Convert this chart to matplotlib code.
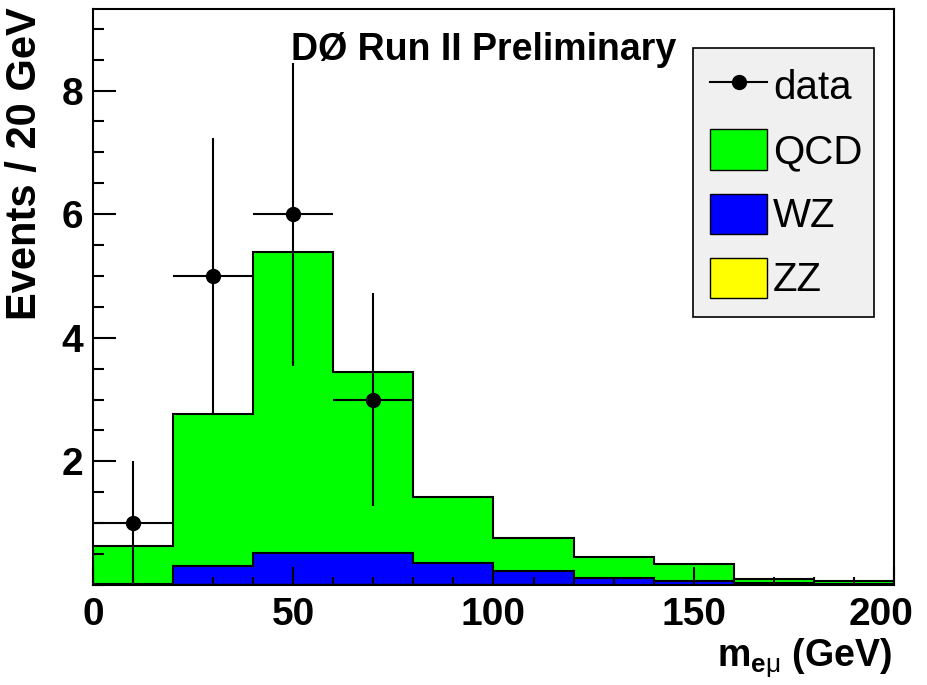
import matplotlib
matplotlib.use("Agg")
import matplotlib.pyplot as plt
import matplotlib.transforms as mtransforms
import numpy as np
from matplotlib.lines import Line2D
from matplotlib.patches import Patch
from matplotlib.ticker import MultipleLocator

# --- data (20 GeV bins, 0-200 GeV) ---
bin_edges = [0, 20, 40, 60, 80, 100, 120, 140, 160, 180, 200]
zz = [0.0, 0.01, 0.02, 0.02, 0.01, 0.01, 0.005, 0.005, 0.0, 0.0]
wz = [0.02, 0.30, 0.49, 0.49, 0.34, 0.22, 0.115, 0.065, 0.03, 0.01]
qcd = [0.61, 2.46, 4.88, 2.94, 1.07, 0.53, 0.33, 0.275, 0.06, 0.055]

data_x = [10, 30, 50, 70]
data_y = [1, 5, 6, 3]
data_err = [1.0, 2.24, 2.45, 1.73]
bin_half_width = 10

plt.rcParams["font.family"] = ["Liberation Sans", "DejaVu Sans"]
plt.rcParams["mathtext.fontset"] = "custom"
plt.rcParams["mathtext.rm"] = "Liberation Sans"
plt.rcParams["mathtext.bf"] = "Liberation Sans:bold"
plt.rcParams["mathtext.it"] = "Liberation Sans"

fig = plt.figure(figsize=(9.27, 6.85), dpi=100)
ax = fig.add_axes([0.1003, 0.146, 0.8641, 0.8409])

edges = np.array(bin_edges)
lvl_zz = np.array(zz)
lvl_wz = lvl_zz + np.array(wz)
lvl_qcd = lvl_wz + np.array(qcd)

# stacked histograms, each drawn from zero like THStack
ax.stairs(lvl_qcd, edges, fill=True, facecolor="#00ff00", edgecolor="black", linewidth=1.5)
ax.stairs(lvl_wz, edges, fill=True, facecolor="#0000ff", edgecolor="black", linewidth=1.5)
ax.stairs(lvl_zz, edges, fill=True, facecolor="#ffff00", edgecolor="black", linewidth=1.0)

ax.errorbar(data_x, data_y, yerr=data_err, xerr=bin_half_width, fmt="o", color="black",
            markersize=10, elinewidth=1.5, capsize=0, zorder=5)

ax.set_xlim(0, 200)
ax.set_ylim(0, 9.32)
ax.set_xticks([0, 50, 100, 150, 200])
ax.xaxis.set_minor_locator(MultipleLocator(10))
ax.set_yticks([2, 4, 6, 8])
ax.yaxis.set_minor_locator(MultipleLocator(0.5))
ax.tick_params(axis="x", which="major", direction="in", length=13, width=1.5, pad=9,
               labelsize=28, top=False)
ax.tick_params(axis="x", which="minor", direction="in", length=6, width=1.5, top=False)
ax.tick_params(axis="y", which="major", direction="in", length=16.5, width=1.5, pad=7,
               labelsize=28, right=False)
ax.tick_params(axis="y", which="minor", direction="in", length=8, width=1.5, right=False)
for sp in ax.spines.values():
    sp.set_linewidth(1.5)

fig.text(0.027, 0.99, "Events / 20 GeV", rotation=90, ha="center", va="top",
         fontsize=30, fontweight="bold")
fig.text(0.962, 0.026, r"m$_{\mathbf{e}\mu}$ (GeV)", ha="right", va="baseline",
         fontsize=27, fontweight="bold")
fig.text(0.522, 0.912, "DØ Run II Preliminary", ha="center", va="baseline",
         fontsize=27, fontweight="bold")

handles = [
    Line2D([], [], color="black", marker="o", markersize=10, linewidth=1.5),
    Patch(facecolor="#00ff00", edgecolor="black", linewidth=1.0),
    Patch(facecolor="#0000ff", edgecolor="black", linewidth=1.0),
    Patch(facecolor="#ffff00", edgecolor="black", linewidth=1.0),
]
leg = ax.legend(handles, ["data", "QCD", "WZ", "ZZ"], loc="upper left",
                bbox_to_anchor=(0.749, 0.932, 0.226, 0.0), mode="expand",
                borderaxespad=0, fontsize=29, handlelength=1.41, handleheight=1.17,
                handletextpad=0.15, labelspacing=0.55, borderpad=0.43,
                fancybox=False, framealpha=1, facecolor="#f0f0f0", edgecolor="black")
leg.get_frame().set_linewidth(1.2)

fig.canvas.draw()
for lab in ax.get_xticklabels() + ax.get_yticklabels():
    lab.set_fontweight("bold")
    # ROOT pulls the last x label back inside the frame
    if lab.get_text() == "200":
        lab.set_transform(lab.get_transform() +
                          mtransforms.ScaledTranslation(-13 / 100, 0, fig.dpi_scale_trans))

fig.savefig("out.png", dpi=100)
